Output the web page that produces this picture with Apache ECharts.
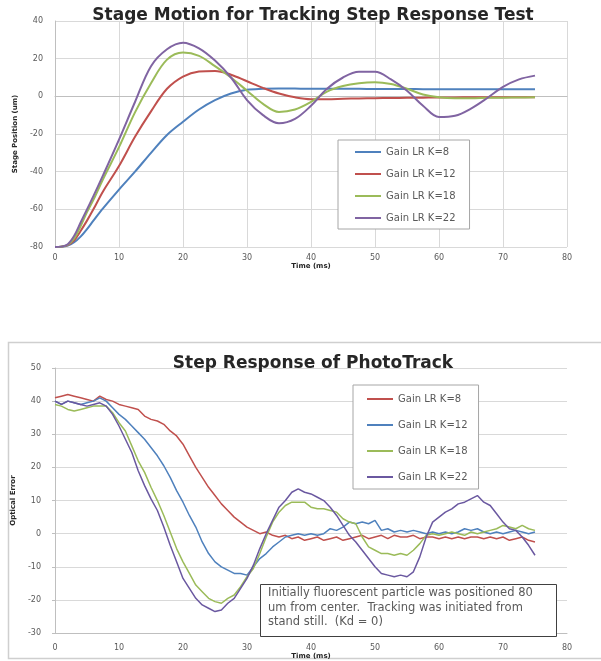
<!DOCTYPE html>
<html>
<head>
<meta charset="utf-8">
<script src="https://cdn.jsdelivr.net/npm/echarts@6/dist/echarts.min.js"></script>
<style>
html,body{margin:0;padding:0;background:#fff;}
#c{width:601px;height:661px;}
</style>
</head>
<body>
<div id="c"></div>
<script>
// ---------- Top chart: Stage Motion ----------
const topTitle = 'Stage Motion for Tracking Step Response Test';
const topNames = ['Gain LR K=8', 'Gain LR K=12', 'Gain LR K=18', 'Gain LR K=22'];
const topTime = [0,1,2,3,4,5,6,7.5,10,12.5,15,17.5,20,22.5,25,27.5,30,32.5,35,37.5,40,42.5,45,47.5,50,52.5,55,57.5,60,62.5,65,67.5,70,72.5,75];
const topK8  = [-80,-79.9,-79.3,-77.5,-74.5,-70.5,-66,-59.5,-49.5,-40,-30,-20.5,-13.5,-7,-2,1.5,3.5,4,4.2,4.1,4,4,4,4,3.9,3.9,3.9,3.8,3.8,3.8,3.8,3.8,3.8,3.8,3.7];
const topK12 = [-80,-79.8,-79,-76.5,-71.5,-66,-60,-50.5,-37,-21.5,-8,4,10.5,13.2,13.5,11.5,8,4.5,1.5,-0.5,-1.5,-1.5,-1.3,-1.1,-1,-0.9,-0.8,-0.7,-0.6,-0.6,-0.5,-0.5,-0.5,-0.5,-0.5];
const topK18 = [-80,-79.8,-78.8,-75.5,-69,-61.5,-55,-44,-27,-8.5,7,19.5,23.3,21.5,16,10,3,-4,-8.3,-7,-3,2.5,5.5,7,7.5,6.5,4,1,-0.5,-1,-1,-0.8,-0.7,-0.6,-0.5];
const topK22 = [-80,-79.8,-78.5,-74,-67,-60,-53,-42,-23,-3,16,25,28.5,25.5,19,10,-2,-10,-14.3,-12,-5,4,10,13,13,9,3,-5,-11,-10.3,-6.5,-1,5,9,11];
const topColors = ['#4F81BD', '#C0504D', '#9BBB59', '#8064A2'];
const topXTicks = [0,10,20,30,40,50,60,70,80];
const topYTicks = [-80,-60,-40,-20,0,20,40];

// ---------- Bottom chart: Step Response of PhotoTrack ----------
const botTitle = 'Step Response of PhotoTrack';
const botNames = ['Gain LR K=8 ', 'Gain LR K=12 ', 'Gain LR K=18 ', 'Gain LR K=22 '];
const botTime = [0,1,2,3,4,5,6,7,8,9,10,11,12,13,14,15,16,17,18,19,20,21,22,23,24,25,26,27,28,29,30,31,32,33,34,35,36,37,38,39,40,41,42,43,44,45,46,47,48,49,50,51,52,53,54,55,56,57,58,59,60,61,62,63,64,65,66,67,68,69,70,71,72,73,74,75];
const botK8 = [41,41.5,42,41.5,41,40.5,40,41.5,40.5,40,
  39,38.5,38,37.5,35.5,34.5,34,33,31,29.5,
  27,23.5,20,17,14,11.5,9,7,5,3.5,
  2,1,0,0.5,-0.5,-1,-0.5,-1.5,-1,-2,
  -1.5,-1,-2,-1.5,-1,-2,-1.5,-1,-0.5,-1.5,
  -1,-0.5,-1.5,-0.5,-1,-1,-0.5,-1.5,-1,-1,
  -1.5,-1,-1.5,-1,-1.5,-1,-1,-1.5,-1,-1.5,
  -1,-2,-1.5,-1,-2,-2.5];
const botK12 = [40,39,40,39.5,39,39.5,40,41,40,38,
  36,34.5,32.5,30.5,28.5,26,23.5,20.5,17,13,
  9.5,5.5,2,-2.5,-6,-8.5,-10,-11,-12,-12,
  -12.5,-10,-7.5,-6,-4,-2.5,-1,-0.5,0,-0.5,
  0,-0.5,0,1.5,1,2,3.5,3,3.5,3,
  4,1,1.5,0.5,1,0.5,1,0.5,0,0.5,
  0,0.5,0,0.5,1.5,1,1.5,0.5,0,0.5,
  0,0.5,1,0.5,0,0.5];
const botK18 = [39,38.5,37.5,37,37.5,38,38.5,38.5,38.5,36.5,
  33.5,31,26.5,22,18.5,14,10,5.5,0.5,-4.5,
  -8.5,-12,-15.5,-17.5,-19.5,-20.5,-21,-19.5,-18.5,-16,
  -13,-10.5,-6,-1,3.5,6.5,8.5,9.5,9.5,9.5,
  8,7.5,7.5,7,6.5,4.5,3.5,3,-1,-4,
  -5,-6,-6,-6.5,-6,-6.5,-5,-3,-0.5,0,
  -0.5,0,0.5,0,-0.5,0.5,0,0.5,1,1.5,
  2.5,2,1.5,2.5,1.5,1];
const botK22 = [40,39,40,39.5,39,38.5,39,39.5,38.5,36,
  32.5,28.5,24.5,19,14.5,10.5,7,2,-3.5,-8.5,
  -13.5,-16.5,-19.5,-21.5,-22.5,-23.5,-23,-21,-19.5,-16.5,
  -13.5,-9.5,-4.5,0,4,8,10,12.5,13.5,12.5,
  12,11,10,8,5.5,2.5,-0.5,-2.5,-5,-7.5,
  -10,-12,-12.5,-13,-12.5,-13,-11.5,-7,-1,3.5,
  5,6.5,7.5,9,9.5,10.5,11.5,9.5,8.5,6,
  3.5,1.5,1,-1,-3.5,-6.5];
const botColors = ['#C0504D', '#4F81BD', '#9BBB59', '#6A58A0'];
const botYTicks = [-30,-20,-10,0,10,20,30,40,50];
const noteLines = [
  'Initially fluorescent particle was positioned 80',
  'um from center.  Tracking was initiated from',
  'stand still.  (Kd = 0)'
];

function pairs(t, v) { return t.map((x, i) => [x, v[i]]); }

const chart = echarts.init(document.getElementById('c'), null, {renderer: 'canvas'});
const labelStyle = {color: '#595959', fontSize: 8, fontFamily: 'DejaVu Sans'};
const nameStyle = {color: '#262626', fontSize: 7, fontWeight: 'bold', fontFamily: 'DejaVu Sans'};

const topSeries = [topK8, topK12, topK18, topK22].map((d, i) => ({
  name: topNames[i], type: 'line', xAxisIndex: 0, yAxisIndex: 0,
  data: pairs(topTime, d), smooth: 0.35, showSymbol: false, symbol: 'none',
  color: topColors[i], lineStyle: {width: 2, color: topColors[i]}, itemStyle: {color: topColors[i]},
  z: 3
}));
const botSeries = [botK8, botK12, botK18, botK22].map((d, i) => ({
  name: botNames[i], type: 'line', xAxisIndex: 1, yAxisIndex: 1,
  data: pairs(botTime, d), showSymbol: false, symbol: 'none',
  color: botColors[i], lineStyle: {width: 1.5, color: botColors[i]}, itemStyle: {color: botColors[i]},
  z: 3
}));

const option = {
  animation: false,
  backgroundColor: '#ffffff',
  title: [
    {text: topTitle, left: 308, top: 2, textAlign: 'center',
     textStyle: {fontSize: 17, fontWeight: 'bold', color: '#262626', fontFamily: 'DejaVu Sans'}},
    {text: botTitle, left: 308, top: 350, textAlign: 'center',
     textStyle: {fontSize: 17, fontWeight: 'bold', color: '#262626', fontFamily: 'DejaVu Sans'}}
  ],
  legend: [
    {data: topNames, orient: 'vertical', left: 338, top: 140,
     padding: [7, 14, 6, 17], itemGap: 12, itemWidth: 26, itemHeight: 2, icon: 'rect',
     borderColor: '#a6a6a6', borderWidth: 1, backgroundColor: '#ffffff',
     textStyle: {color: '#595959', fontSize: 10, lineHeight: 10, fontFamily: 'DejaVu Sans'},
     formatter: n => n.trim()},
    {data: botNames, orient: 'vertical', left: 353, top: 385,
     padding: [9, 11, 7, 14], itemGap: 16, itemWidth: 26, itemHeight: 2, icon: 'rect',
     borderColor: '#a6a6a6', borderWidth: 1, backgroundColor: '#ffffff',
     textStyle: {color: '#595959', fontSize: 10, lineHeight: 10, fontFamily: 'DejaVu Sans'},
     formatter: n => n.trim()}
  ],
  grid: [
    {left: 55, top: 21, width: 512, height: 226, containLabel: false},
    {left: 55, top: 368, width: 512, height: 268, containLabel: false}
  ],
  xAxis: [
    {type: 'value', gridIndex: 0, min: topXTicks[0], max: topXTicks[topXTicks.length - 1], interval: 10,
     name: 'Time (ms)', nameLocation: 'middle', nameGap: 16, nameTextStyle: nameStyle,
     axisLine: {show: true, lineStyle: {color: '#bfbfbf'}}, axisTick: {show: false},
     axisLabel: Object.assign({margin: 7}, labelStyle),
     splitLine: {show: true, lineStyle: {color: '#d9d9d9', width: 1}}},
    {type: 'value', gridIndex: 1, min: 0, max: 80, interval: 10,
     name: 'Time (ms)', nameLocation: 'middle', nameGap: 15, nameTextStyle: nameStyle,
     axisLine: {show: true, onZero: false, lineStyle: {color: '#bfbfbf'}}, axisTick: {show: false},
     axisLabel: Object.assign({margin: 11}, labelStyle),
     splitLine: {show: false}}
  ],
  yAxis: [
    {type: 'value', gridIndex: 0, min: topYTicks[0], max: topYTicks[topYTicks.length - 1], interval: 20,
     name: 'Stage Position (um)', nameLocation: 'middle', nameGap: 33, nameTextStyle: nameStyle,
     axisLine: {show: true, lineStyle: {color: '#bfbfbf'}}, axisTick: {show: false},
     axisLabel: Object.assign({margin: 12}, labelStyle),
     splitLine: {show: true, lineStyle: {color: '#d9d9d9', width: 1}}},
    {type: 'value', gridIndex: 1, min: botYTicks[0], max: botYTicks[botYTicks.length - 1], interval: 10,
     name: 'Optical Error', nameLocation: 'middle', nameGap: 37, nameTextStyle: nameStyle,
     axisLine: {show: true, lineStyle: {color: '#bfbfbf'}}, axisTick: {show: true, length: 3, lineStyle: {color: '#bfbfbf'}},
     axisLabel: Object.assign({margin: 14}, labelStyle),
     splitLine: {show: true, lineStyle: {color: '#d9d9d9', width: 1}}}
  ],
  graphic: [
    {type: 'rect', shape: {x: 8.5, y: 342.5, width: 600, height: 316}, silent: true,
     style: {fill: 'none', stroke: '#cfcfcf', lineWidth: 1.5}, z: 0},
    {type: 'rect', shape: {x: 260.5, y: 584.5, width: 296, height: 52}, silent: true,
     style: {fill: '#ffffff', stroke: '#404040', lineWidth: 1}, z: 10},
    {type: 'text', left: 268, top: 586, silent: true, z: 11,
     style: {text: noteLines.join('\n'), fill: '#595959', fontSize: 11.5, lineHeight: 14.5,
             fontFamily: 'DejaVu Sans'}}
  ],
  series: topSeries.concat(botSeries)
};
chart.setOption(option);
</script>
</body>
</html>
